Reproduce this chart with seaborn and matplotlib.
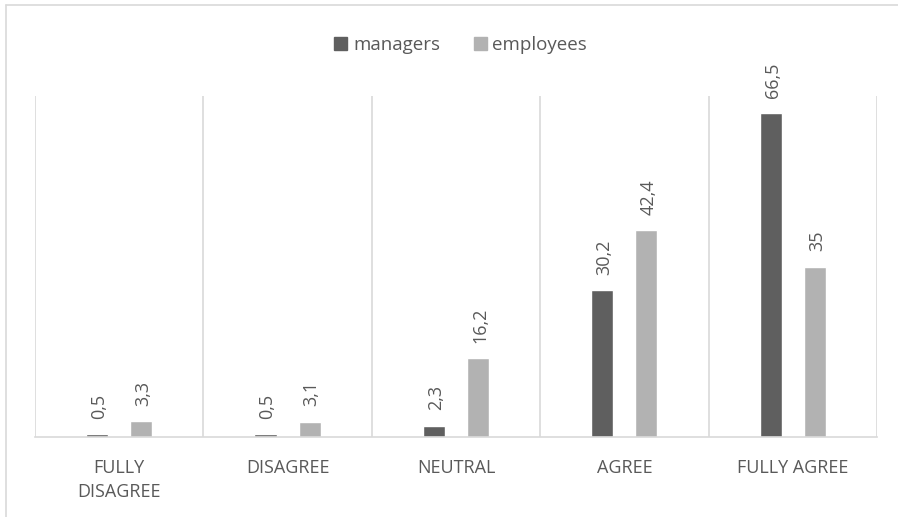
import matplotlib
matplotlib.use("Agg")
import matplotlib.pyplot as plt
from matplotlib.lines import Line2D
import seaborn as sns
import pandas as pd

# Survey answers (percent of respondents)
categories = ["FULLY DISAGREE", "DISAGREE", "NEUTRAL", "AGREE", "FULLY AGREE"]
tick_labels = ["FULLY\nDISAGREE", "DISAGREE", "NEUTRAL", "AGREE", "FULLY AGREE"]
groups = ["managers", "employees"]
managers = [0.5, 0.5, 2.3, 30.2, 66.5]
employees = [3.3, 3.1, 16.2, 42.4, 35.0]

palette = {"managers": "#5f5f5f", "employees": "#b2b2b2"}
text_color = "#595959"
grid_color = "#d9d9d9"

df = pd.DataFrame({
    "category": categories * 2,
    "group": [groups[0]] * len(categories) + [groups[1]] * len(categories),
    "value": managers + employees,
})

sns.set_theme(style="white")
plt.rcParams["font.family"] = ["Open Sans", "DejaVu Sans"]

fig = plt.figure(figsize=(8.98, 5.17), dpi=100)
ax = fig.add_axes([0.039, 0.155, 0.9375, 0.659])

sns.barplot(data=df, x="category", y="value", hue="group", order=categories,
            hue_order=groups, palette=palette, width=0.524, gap=0.5,
            saturation=1, ax=ax, legend=False)

ax.set_xlim(-0.5, len(categories) - 0.5)
ax.set_ylim(0, 70)

# category separators
for b in range(len(categories) + 1):
    ax.axvline(b - 0.5, color=grid_color, lw=1.2, zorder=0)

for s in ["top", "left", "right"]:
    ax.spines[s].set_visible(False)
ax.spines["bottom"].set_color(grid_color)
ax.spines["bottom"].set_linewidth(1.2)

ax.set_yticks([])
ax.set_xlabel("")
ax.set_ylabel("")
ax.set_xticks(range(len(categories)))
ax.set_xticklabels(tick_labels, color=text_color, fontsize=13,
                   linespacing=1.45)
ax.tick_params(axis="x", length=0, pad=16)


def fmt(v):
    s = f"{v:g}"
    return s.replace(".", ",")


for container, vals in zip(ax.containers, [managers, employees]):
    for bar, v in zip(container, vals):
        ax.annotate(fmt(v), (bar.get_x() + bar.get_width() / 2, v),
                    xytext=(1.5, 11), textcoords="offset points",
                    rotation=90, ha="center", va="bottom",
                    fontsize=13, color=text_color)

handles = [plt.Rectangle((0, 0), 1, 1, color=palette[g]) for g in groups]
fig.legend(handles, groups, loc="center", bbox_to_anchor=(0.513, 0.912),
           ncol=2, frameon=False, fontsize=13.5, labelcolor=text_color,
           handlelength=0.7, handleheight=0.7, handletextpad=0.3,
           columnspacing=1.8)

# outer chart border (top and left edges)
fig.add_artist(Line2D([6 / 898, 6 / 898], [0, 1 - 5 / 517],
                      transform=fig.transFigure, color=grid_color, lw=1.2))
fig.add_artist(Line2D([6 / 898, 1], [1 - 5 / 517, 1 - 5 / 517],
                      transform=fig.transFigure, color=grid_color, lw=1.2))

fig.savefig("out.png", dpi=100)
